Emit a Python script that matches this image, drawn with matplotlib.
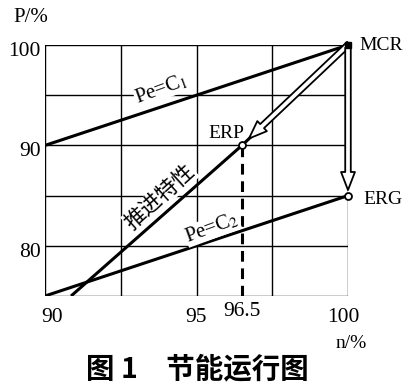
import matplotlib
matplotlib.use("Agg")
import matplotlib.pyplot as plt
from matplotlib.patches import FancyArrowPatch
from matplotlib.transforms import ScaledTranslation

plt.rcParams['mathtext.fontset'] = 'stix'
SERIF = ['Liberation Serif', 'DejaVu Serif']
CJK = ['Noto Sans CJK SC', 'DejaVu Sans']

# ---- data ----
x_ticks = [90, 95, 96.5, 100]
x_tick_labels = ['90', '95', '96.5', '100']
y_ticks = [80, 90, 100]
y_tick_labels = ['80', '90', '100']
x_grid = [90, 92.5, 95, 97.5, 100]
y_grid = [75, 80, 85, 90, 95, 100]

pe_c1_n = [90, 100]
pe_c1_p = [90, 100]
pe_c2_n = [90, 100]
pe_c2_p = [75, 85]
prop_n = [90.86, 96.5, 100]
prop_p = [75, 90, 100]

MCR = (100, 100)
ERP = (96.5, 90)
ERG = (100, 85)

fig = plt.figure(figsize=(4.13, 3.91), dpi=100)
ax = fig.add_axes([45/413, 1-296/391, (348-45)/413, (296-45)/391])
ax.set_xlim(90, 100)
ax.set_ylim(75, 100)

for gx in x_grid:
    ax.axvline(gx, color='black', lw=1.0, zorder=1)
for gy in y_grid:
    ax.axhline(gy, color='black', lw=1.0, zorder=1)
ax.set_xticks(x_ticks)
ax.set_xticklabels(x_tick_labels, fontfamily=SERIF, fontsize=15.5)
ax.set_yticks(y_ticks)
ax.set_yticklabels(y_tick_labels, fontfamily=SERIF, fontsize=15.5)
ax.tick_params(which='both', length=0)
ax.tick_params(axis='x', pad=9)
ax.tick_params(axis='y', pad=3)
for s in ax.spines.values():
    s.set_visible(False)

# adjust tick label positions
for lab in ax.get_yticklabels():
    lab.set_transform(lab.get_transform() + ScaledTranslation(0, -4/100, fig.dpi_scale_trans))
xl = ax.get_xticklabels()
xl[0].set_transform(xl[0].get_transform() + ScaledTranslation(7/100, 0, fig.dpi_scale_trans))
xl[2].set_transform(xl[2].get_transform() + ScaledTranslation(0, 6/100, fig.dpi_scale_trans))
xl[3].set_transform(xl[3].get_transform() + ScaledTranslation(-5/100, 0, fig.dpi_scale_trans))

lw = 2.2
ax.plot(pe_c1_n, pe_c1_p, color='black', lw=lw, solid_capstyle='butt', zorder=3)
ax.plot(pe_c2_n, pe_c2_p, color='black', lw=lw, solid_capstyle='butt', zorder=3)
ax.plot(prop_n, prop_p, color='black', lw=lw, solid_capstyle='butt', zorder=3)
ax.plot([ERP[0], ERP[0]], [75, ERP[1]], color='black', lw=2.2, ls=(0, (3.5, 2.2)), zorder=3)

# markers
ax.plot(*ERP, marker='o', ms=5, mfc='white', mec='black', mew=1.3, zorder=6, clip_on=False)
ax.plot(*ERG, marker='o', ms=5, mfc='white', mec='black', mew=1.3, zorder=6, clip_on=False)
ax.plot(*MCR, marker='s', ms=4, mfc='black', mec='black', zorder=6, clip_on=False)

# hollow arrows
style = "simple,head_length=13,head_width=10,tail_width=4"
off = ScaledTranslation(4/100, 4/100, fig.dpi_scale_trans)
a1 = FancyArrowPatch(MCR, ERP, arrowstyle=style, mutation_scale=1,
                     fc='white', ec='black', lw=1.3, shrinkA=3, shrinkB=3,
                     transform=ax.transData + off, zorder=5, clip_on=False)
ax.add_patch(a1)
a2 = FancyArrowPatch(MCR, ERG, arrowstyle=style, mutation_scale=1,
                     fc='white', ec='black', lw=1.3, shrinkA=2, shrinkB=4,
                     zorder=5, clip_on=False)
ax.add_patch(a2)

# labels
def ftext(px, py, s, **kw):
    fig.text(px/413, 1-py/391, s, **kw)

ftext(31, 18, 'P/%', ha='center', va='center', fontfamily=SERIF, fontsize=15)
ftext(351, 344, 'n/%', ha='center', va='center', fontfamily=SERIF, fontsize=14)
ftext(381, 45, 'MCR', ha='center', va='center', fontfamily=SERIF, fontsize=14)
ftext(226, 133, 'ERP', ha='center', va='center', fontfamily=SERIF, fontsize=14)
ftext(383, 200, 'ERG', ha='center', va='center', fontfamily=SERIF, fontsize=14)
ftext(161, 89, 'Pe=C$_1$', ha='center', va='center', fontfamily=SERIF, fontsize=15,
      rotation=20, bbox=dict(fc='white', ec='none', pad=0.3), zorder=4)
ftext(212, 228, 'Pe=C$_2$', ha='center', va='center', fontfamily=SERIF, fontsize=15,
      rotation=20, bbox=dict(fc='white', ec='none', pad=0.3), zorder=4)
ftext(160, 197, '推进特性', ha='center', va='center', fontfamily=CJK, fontsize=15.5,
      rotation=42, bbox=dict(fc='white', ec='none', pad=0.3), zorder=4)
ftext(197, 369, '图 1\u3000节能运行图', ha='center', va='center', fontfamily=CJK,
      fontsize=20.5, fontweight='bold')

fig.savefig('out.png', dpi=100)
